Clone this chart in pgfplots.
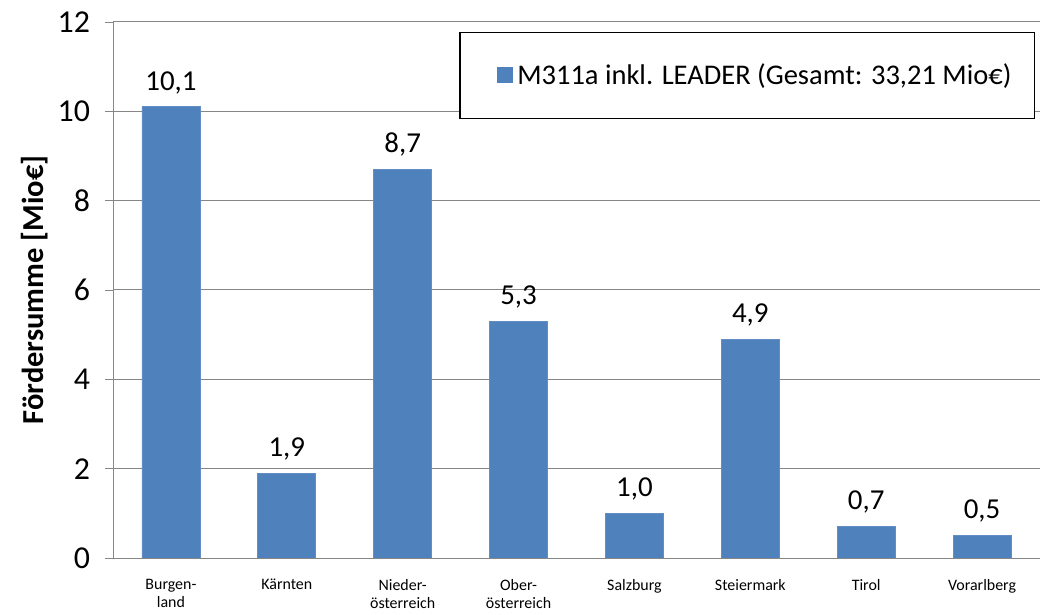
\documentclass[border=0pt]{standalone}
\usepackage{pgfplots}
\pgfplotsset{compat=1.18}
\usepackage{fontspec}
\setmainfont{Carlito}
\definecolor{barblue}{HTML}{4F81BD}
\definecolor{gridgray}{HTML}{868686}
\begin{document}
\begin{tikzpicture}
\begin{axis}[
    name=ax,
    scale only axis,
    width=463.5bp, height=268bp,
    xmin=0.5, xmax=8.5,
    ymin=0, ymax=12,
    ytick={0,2,...,12},
    xtick={1,...,8},
    xticklabels={Burgen-\\land, Kärnten, Nieder-\\österreich, Ober-\\österreich, Salzburg, Steiermark, Tirol, Vorarlberg},
    xticklabel style={align=center, font=\fontsize{8}{9}\selectfont, yshift=-3bp},
    yticklabel style={font=\fontsize{16}{18}\selectfont, xshift=-4bp},
    /pgf/number format/assume math mode=true,
    major x tick style={draw=none},
    extra x ticks={0.5,1.5,...,8.5},
    extra x tick labels={},
    extra x tick style={major tick length=4bp, tick align=outside, tick style={draw=gridgray}},
    axis x line*=bottom,
    axis y line*=left,
    axis line style={draw=gridgray, -},
    tick align=outside,
    major tick length=4bp,
    tick style={draw=gridgray},
    ymajorgrids,
    grid style={draw=gridgray, line width=0.5pt},
    ylabel={\bfseries Fördersumme [Mio€]},
    ylabel style={font=\fontsize{15.3}{17}\selectfont, yshift=-2bp},
    ybar,
    bar width=29bp,
    nodes near coords,
    every node near coord/.append style={font=\fontsize{14.5}{16}\selectfont, black, yshift=3bp,
        /pgf/number format/.cd, use comma, fixed, fixed zerofill, precision=1},
    legend style={at={(rel axis cs:0.9946,0.981)}, anchor=north east, draw=black, line width=0.6pt,
        inner xsep=9.5bp, inner ysep=13.5bp, font=\fontsize{14.3}{16}\selectfont},
    legend image code/.code={\path (0bp,0bp); \fill[barblue] (9bp,-3.5bp) rectangle (16.5bp,4bp);},
]
\addplot[fill=barblue, draw=barblue!90!white] coordinates {
    (1,10.1) (2,1.9) (3,8.7) (4,5.3) (5,1.0) (6,4.9) (7,0.7) (8,0.5)
};
\addlegendentry{M311a inkl. LEADER (Gesamt: 33,21 Mio€)}
\end{axis}
\pgfresetboundingbox
\path[use as bounding box] ([shift={(-56.5bp,-28.5bp)}]ax.south west) rectangle ([shift={(1bp,11bp)}]ax.north east);
\end{tikzpicture}
\end{document}
